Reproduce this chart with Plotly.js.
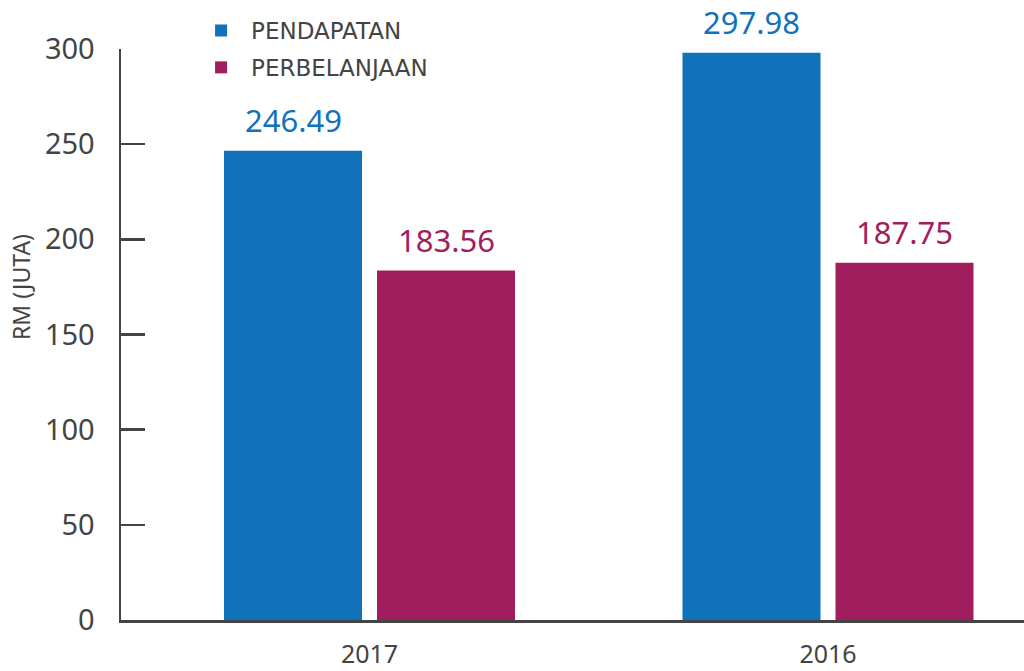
<!DOCTYPE html>
<html>
<head>
<meta charset="utf-8">
<script src="https://cdn.plot.ly/plotly-3.0.1.min.js"></script>
<style>html,body{margin:0;padding:0;background:#fff;}#chart{width:1024px;height:671px;}</style>
</head>
<body>
<div id="chart"></div>
<script>
const categories = ['2017', '2016'];
const pendapatan = [246.49, 297.98];
const perbelanjaan = [183.56, 187.75];
const seriesNames = ['PENDAPATAN', 'PERBELANJAAN'];
const yTicks = [0, 50, 100, 150, 200, 250, 300];
const yTitle = 'RM (JUTA)';

const BLUE = '#1172BB';
const MAGENTA = '#A11E5E';
const GREY = '#444444';
const FONT = 'Noto Sans, Open Sans, sans-serif';

const bargap = 0.3326;
const slot = (1 - bargap) / 2;

const traces = [
  {type: 'bar', name: seriesNames[0], x: categories, y: pendapatan, marker: {color: BLUE}, legendgroup: 'a', hoverinfo: 'none'},
  {type: 'bar', name: seriesNames[1], x: categories, y: perbelanjaan, marker: {color: MAGENTA}, legendgroup: 'b', hoverinfo: 'none'}
];

const annotations = [];
[[pendapatan, BLUE, -1], [perbelanjaan, MAGENTA, 1]].forEach(([vals, col, sgn]) => {
  vals.forEach((v, i) => {
    annotations.push({
      x: i + sgn * slot / 2, y: v, xref: 'x', yref: 'y',
      text: v.toFixed(2), showarrow: false, yanchor: 'bottom', yshift: 8,
      font: {family: FONT, size: 31, color: col}
    });
  });
});
annotations.push({
  xref: 'paper', yref: 'paper', x: -(121 - 21) / 903, y: (620 - 287) / 571,
  xanchor: 'center', yanchor: 'middle', textangle: -90, showarrow: false,
  text: yTitle, font: {family: FONT, size: 23, color: GREY}
});

const layout = {
  width: 1024, height: 671,
  margin: {l: 121, r: 0, t: 49, b: 51, pad: 0},
  paper_bgcolor: '#fff', plot_bgcolor: '#fff',
  barmode: 'group', bargap: bargap, bargroupgap: 0.098,
  font: {family: FONT, color: GREY},
  showlegend: true,
  legend: {
    x: 0.0776, y: 1.07, xanchor: 'left', yanchor: 'top',
    font: {family: 'DejaVu Sans, Noto Sans, sans-serif', size: 23, color: GREY},
    traceorder: 'grouped', tracegroupgap: 4, itemwidth: 50,
    bgcolor: 'rgba(0,0,0,0)'
  },
  xaxis: {
    type: 'category', range: [-0.542, 1.4275],
    showline: true, linecolor: GREY, linewidth: 3,
    ticks: '', showgrid: false, zeroline: false,
    tickfont: {family: FONT, size: 25, color: GREY},
    ticklabelstandoff: 10
  },
  yaxis: {
    range: [0, 300], tickvals: yTicks, ticktext: yTicks.map(String),
    showline: true, linecolor: GREY, linewidth: 2.5,
    ticks: 'inside', ticklen: 24, tickwidth: 2.5, tickcolor: GREY,
    showgrid: false, zeroline: false,
    tickfont: {family: FONT, size: 29, color: GREY},
    ticklabelstandoff: 18
  },
  annotations: annotations
};

Plotly.newPlot('chart', traces, layout, {displayModeBar: false, staticPlot: true});
</script>
</body>
</html>
